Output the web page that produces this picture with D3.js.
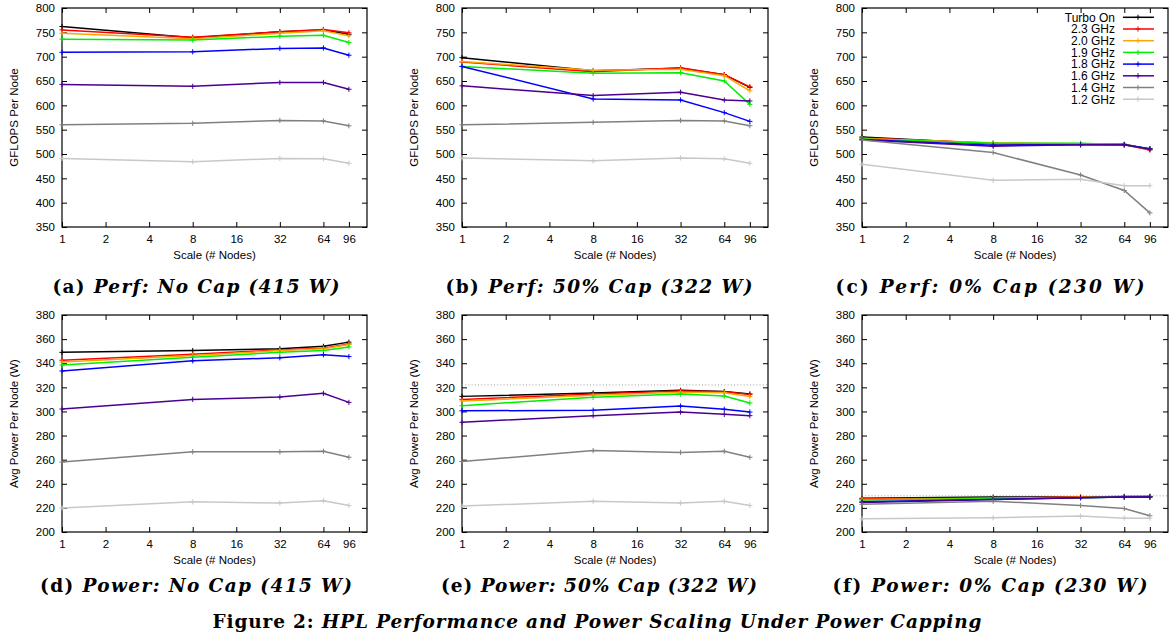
<!DOCTYPE html>
<html>
<head>
<meta charset="utf-8">
<script src="https://cdn.jsdelivr.net/npm/d3@7"></script>
<style>
  body { margin: 0; background: #fff; }
  svg { display: block; }
</style>
</head>
<body>
<div id="chart"></div>
<script>
// Data
var nodes = [1, 8, 32, 64, 96];
var xTicks = [1, 2, 4, 8, 16, 32, 64, 96];
var perfTicks = [350, 400, 450, 500, 550, 600, 650, 700, 750, 800];
var powerTicks = [200, 220, 240, 260, 280, 300, 320, 340, 360, 380];

var seriesNames = ["Turbo On", "2.3 GHz", "2.0 GHz", "1.9 GHz", "1.8 GHz", "1.6 GHz", "1.4 GHz", "1.2 GHz"];
var seriesColors = ["#000000", "#ff0000", "#ffa500", "#00ee00", "#0000ff", "#4b0090", "#808080", "#c8c8c8"];

// GFLOPS per node, one row per series
var perfNoCap = [
    [762, 739, 751, 755, 746],
    [755, 740, 751, 756, 749],
    [748, 737, 748, 753, 743],
    [736, 734, 742, 744, 729],
    [709, 710, 717, 718, 703],
    [643, 639, 647, 647, 633],
    [560, 563, 569, 568, 558],
    [491, 484, 491, 490, 481]
];
var perfHalfCap = [
    [698, 671, 676, 663, 637],
    [689, 669, 677, 663, 638],
    [690, 672, 674, 661, 630],
    [680, 666, 667, 650, 602],
    [680, 613, 611, 585, 567],
    [640, 620, 627, 611, 609],
    [560, 565, 569, 568, 558],
    [492, 486, 492, 490, 481]
];
var perfZeroCap = [
    [535, 521, 520, 520, 510],
    [533, 522, 520, 519, 508],
    [532, 523, 521, 519, 510],
    [531, 522, 522, 519, 511],
    [530, 518, 519, 519, 511],
    [529, 516, 519, 519, 510],
    [529, 503, 457, 425, 379],
    [479, 446, 448, 435, 435]
];

// Avg power per node (W)
var powerNoCap = [
    [349, 350.5, 352, 354, 357.5],
    [342.5, 347.5, 351, 352.5, 356],
    [341, 346.5, 350.5, 352, 355.5],
    [338.5, 345, 349, 350.5, 353.5],
    [333.5, 342, 344.5, 347, 345.5],
    [302, 310, 312, 315, 307.5],
    [258, 266.5, 266.5, 267, 262],
    [220, 225, 224, 226, 222]
];
var powerHalfCap = [
    [312.5, 315.3, 317.5, 316.5, 314.5],
    [310, 314.5, 317, 316.3, 314],
    [308.7, 313.4, 316, 315.6, 312.3],
    [304.8, 311.7, 314.5, 312.8, 307],
    [300.5, 301, 304.5, 301.8, 299.5],
    [291, 296.5, 299.5, 297.6, 296.5],
    [258.5, 267.5, 266, 267, 262],
    [221.5, 225.5, 224, 225.5, 222]
];
var powerZeroCap = [
    [228, 229, 229, 229.5, 229.5],
    [227.5, 228, 229, 229.3, 229.5],
    [227, 228, 228.8, 229, 229],
    [226.5, 227.5, 228.5, 229, 229],
    [225, 227, 228.5, 229, 229],
    [224.5, 227, 228.5, 229, 229],
    [223, 225.5, 222, 219.5, 213.5],
    [211, 211.8, 213.2, 211.5, 211.5]
];

// Basic size information
var width = 1169, height = 643;
var cols = [{left: 62, right: 367, capX: 196}, {left: 462, right: 768, capX: 599}, {left: 862, right: 1168, capX: 990}];
var rows = [{top: 8, bottom: 227, capY: 293}, {top: 315, bottom: 532, capY: 592}];

var panels = [
    {row: 0, col: 0, data: perfNoCap, ticks: perfTicks, ylabel: "GFLOPS Per Node", tag: "(a)", cap: "Perf: No Cap (415 W)", capW: 287},
    {row: 0, col: 1, data: perfHalfCap, ticks: perfTicks, ylabel: "GFLOPS Per Node", tag: "(b)", cap: "Perf: 50% Cap (322 W)", capW: 307},
    {row: 0, col: 2, data: perfZeroCap, ticks: perfTicks, ylabel: "GFLOPS Per Node", tag: "(c)", cap: "Perf: 0% Cap (230 W)", capW: 309, legend: true},
    {row: 1, col: 0, data: powerNoCap, ticks: powerTicks, ylabel: "Avg Power Per Node (W)", tag: "(d)", cap: "Power: No Cap (415 W)", capW: 312},
    {row: 1, col: 1, data: powerHalfCap, ticks: powerTicks, ylabel: "Avg Power Per Node (W)", tag: "(e)", cap: "Power: 50% Cap (322 W)", capW: 316, limit: 322},
    {row: 1, col: 2, data: powerZeroCap, ticks: powerTicks, ylabel: "Avg Power Per Node (W)", tag: "(f)", cap: "Power: 0% Cap (230 W)", capW: 315, limit: 230}
];

var svg = d3.select("#chart")
    .append("svg")
        .attr("width", width)
        .attr("height", height)
        .style("font-family", "'Liberation Sans', Arial, sans-serif");

var fontSize = 11.5;
var plus = "M-2.6,0H2.6M0,-2.6V2.6";

panels.forEach(function (p) {
    var c = cols[p.col], r = rows[p.row];

    var x = d3.scaleLog().base(2)
        .domain([1, 128])
        .range([c.left, c.right]);
    var y = d3.scaleLinear()
        .domain([p.ticks[0], p.ticks[p.ticks.length - 1]])
        .range([r.bottom, r.top]);

    var g = svg.append("g");

    // Axes with inward ticks, mirrored on top/right
    g.append("g")
        .attr("transform", "translate(0," + r.bottom + ")")
        .call(d3.axisBottom(x).tickValues(xTicks).tickFormat(d3.format("d")).tickSize(-5).tickPadding(8))
        .call(a => a.select(".domain").remove())
        .call(a => a.selectAll("text").attr("font-size", fontSize).attr("font-family", null).attr("fill", "#000"));
    g.append("g")
        .attr("transform", "translate(0," + r.top + ")")
        .call(d3.axisTop(x).tickValues(xTicks).tickFormat("").tickSize(-5))
        .call(a => a.select(".domain").remove());
    g.append("g")
        .attr("transform", "translate(" + c.left + ",0)")
        .call(d3.axisLeft(y).tickValues(p.ticks).tickSize(-5).tickPadding(7))
        .call(a => a.select(".domain").remove())
        .call(a => a.selectAll("text").attr("font-size", fontSize).attr("font-family", null).attr("fill", "#000"));
    g.append("g")
        .attr("transform", "translate(" + c.right + ",0)")
        .call(d3.axisRight(y).tickValues(p.ticks).tickFormat("").tickSize(-5))
        .call(a => a.select(".domain").remove());

    g.selectAll(".tick line").attr("stroke", "#000");

    // Frame
    g.append("rect")
        .attr("x", c.left)
        .attr("y", r.top)
        .attr("width", c.right - c.left)
        .attr("height", r.bottom - r.top)
        .attr("fill", "none")
        .attr("stroke", "#000")
        .attr("stroke-width", 1.2);

    // Power cap reference line
    if (p.limit) {
        g.append("line")
            .attr("x1", c.left)
            .attr("x2", c.right)
            .attr("y1", y(p.limit))
            .attr("y2", y(p.limit))
            .attr("stroke", "#999")
            .attr("stroke-width", 1)
            .attr("stroke-dasharray", "1,2.2");
    }

    // Series lines and markers
    var line = d3.line()
        .x((d, i) => x(nodes[i]))
        .y(d => y(d));

    p.data.forEach(function (vals, s) {
        g.append("path")
            .datum(vals)
            .attr("d", line)
            .attr("fill", "none")
            .attr("stroke", seriesColors[s])
            .attr("stroke-width", 1.5);
        g.selectAll(".m" + s)
            .data(vals)
            .join("path")
                .attr("class", "m" + s)
                .attr("d", plus)
                .attr("transform", (d, i) => "translate(" + x(nodes[i]) + "," + y(d) + ")")
                .attr("stroke", seriesColors[s])
                .attr("stroke-width", 1);
    });

    // Axis titles
    g.append("text")
        .attr("x", (c.left + c.right) / 2)
        .attr("y", r.bottom + 32)
        .attr("text-anchor", "middle")
        .attr("font-size", fontSize)
        .text("Scale (# Nodes)");
    g.append("text")
        .attr("transform", "translate(" + (c.left - 48) + "," + ((r.top + r.bottom) / 2) + ") rotate(-90)")
        .attr("text-anchor", "middle")
        .attr("dy", "0.35em")
        .attr("font-size", fontSize)
        .text(p.ylabel);

    // Sub caption
    var cap = g.append("text")
        .attr("x", c.capX)
        .attr("y", r.capY)
        .attr("text-anchor", "middle")
        .attr("font-family", "'DejaVu Serif', serif")
        .attr("font-weight", "bold")
        .attr("font-size", 18.5)
        .attr("textLength", p.capW)
        .attr("lengthAdjust", "spacing");
    cap.append("tspan").text(p.tag + " ");
    cap.append("tspan").attr("font-style", "italic").text(p.cap);

    // Legend
    if (p.legend) {
        var lg = g.append("g");
        seriesNames.forEach(function (name, s) {
            var ly = 17.3 + 11.7 * s;
            lg.append("text")
                .attr("x", 1115)
                .attr("y", ly)
                .attr("dy", "0.36em")
                .attr("text-anchor", "end")
                .attr("font-size", 12)
                .text(name);
            lg.append("line")
                .attr("x1", 1123)
                .attr("x2", 1154)
                .attr("y1", ly)
                .attr("y2", ly)
                .attr("stroke", seriesColors[s])
                .attr("stroke-width", 1.5);
            lg.append("path")
                .attr("d", plus)
                .attr("transform", "translate(1138," + ly + ")")
                .attr("stroke", seriesColors[s])
                .attr("stroke-width", 1);
        });
    }
});

// Figure caption
var fig = svg.append("text")
    .attr("x", 597)
    .attr("y", 628)
    .attr("text-anchor", "middle")
    .attr("font-family", "'DejaVu Serif', serif")
    .attr("font-weight", "bold")
    .attr("font-size", 18.5)
    .attr("textLength", 769)
    .attr("lengthAdjust", "spacing");
fig.append("tspan").text("Figure 2: ");
fig.append("tspan").attr("font-style", "italic").text("HPL Performance and Power Scaling Under Power Capping");
</script>
</body>
</html>
